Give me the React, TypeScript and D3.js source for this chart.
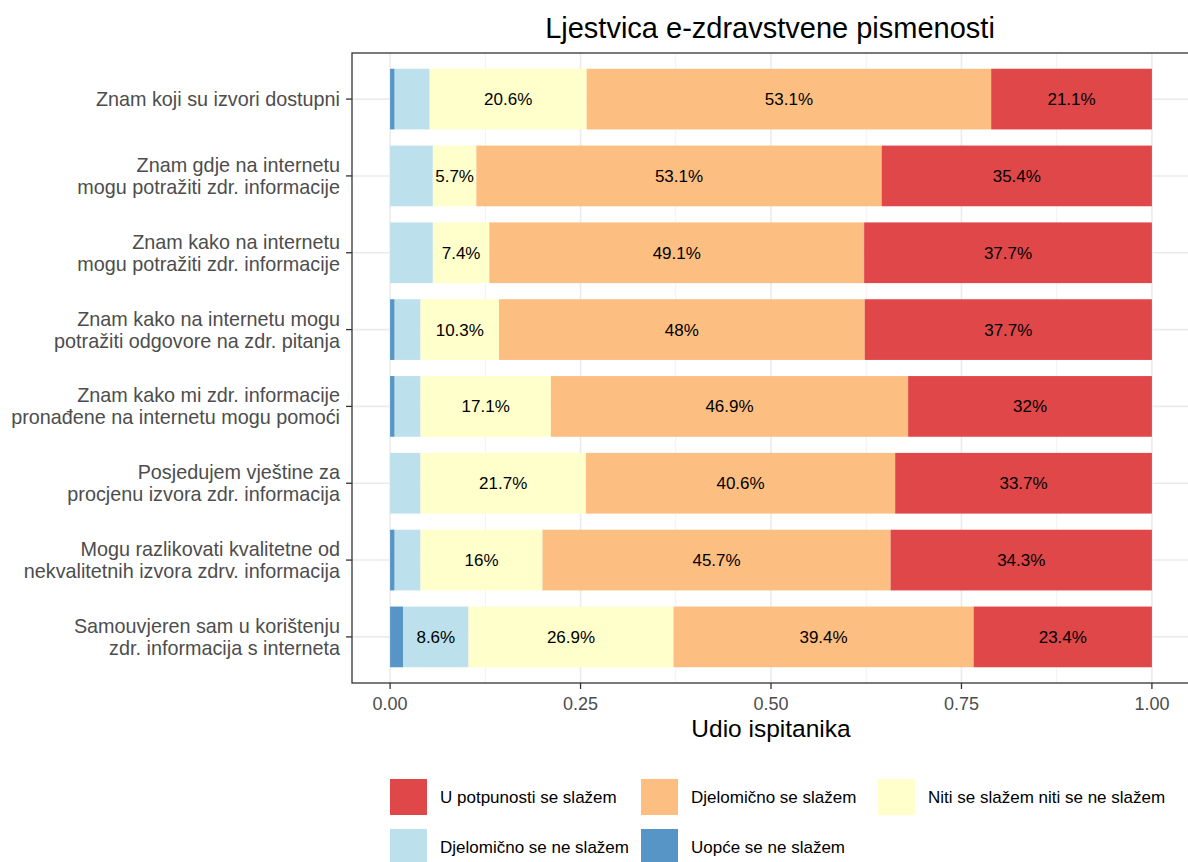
import React from "react";
import * as d3 from "d3";

const categories = [
  ["Znam koji su izvori dostupni"],
  ["Znam gdje na internetu", "mogu potražiti zdr. informacije"],
  ["Znam kako na internetu", "mogu potražiti zdr. informacije"],
  ["Znam kako na internetu mogu", "potražiti odgovore na zdr. pitanja"],
  ["Znam kako mi zdr. informacije", "pronađene na internetu mogu pomoći"],
  ["Posjedujem vještine za ", "procjenu izvora zdr. informacija"],
  ["Mogu razlikovati kvalitetne od", "nekvalitetnih izvora zdrv. informacija"],
  ["Samouvjeren sam u korištenju", "zdr. informacija s interneta"],
];

// stack order from left: Uopće, Djelomično ne, Niti, Djelomično se, U potpunosti
const uopceNe = [0.6, 0, 0, 0.6, 0.6, 0, 0.6, 1.7];
const djelomicnoNe = [4.6, 5.6, 5.6, 3.4, 3.4, 4.0, 3.4, 8.6];
const niti = [20.6, 5.7, 7.4, 10.3, 17.1, 21.7, 16, 26.9];
const djelomicnoSe = [53.1, 53.1, 49.1, 48, 46.9, 40.6, 45.7, 39.4];
const potpuno = [21.1, 35.4, 37.7, 37.7, 32, 33.7, 34.3, 23.4];

const seriesNames = [
  "Uopće se ne slažem",
  "Djelomično se ne slažem",
  "Niti se slažem niti se ne slažem",
  "Djelomično se slažem",
  "U potpunosti se slažem",
];
const seriesValues = [uopceNe, djelomicnoNe, niti, djelomicnoSe, potpuno];
const seriesColors = ["#5695C5", "#BCE1ED", "#FFFFCC", "#FDBE81", "#DF4749"];
const xTicks = [0, 0.25, 0.5, 0.75, 1];
const xTickLabels = ["0.00", "0.25", "0.50", "0.75", "1.00"];

export default function App() {
  const W = 1188, H = 862;
  const panelL = 352, panelR = 1190, panelT = 53, panelB = 683;
  const x = d3.scaleLinear().domain([-0.05, 1.05]).range([panelL, panelR]);
  const n = categories.length;
  const y = d3.scaleLinear().domain([-0.6, n - 1 + 0.6]).range([panelT, panelB]);
  const barH = (y(1) - y(0)) * 0.79;
  const font = "'Liberation Sans', Arial, sans-serif";

  // position "fill": normalise each row to its total
  const rows = categories.map((c, i) => {
    const total = d3.sum(seriesValues, (vals) => vals[i]);
    let cum = 0;
    return seriesValues.map((vals, s) => {
      const v = vals[i] / total;
      const seg = { s, x0: cum, x1: cum + v, v: vals[i] };
      cum += v;
      return seg;
    });
  });

  const minor = [0.125, 0.375, 0.625, 0.875];

  const legendItems = [
    { s: 4, kx: 390, ky: 779 },
    { s: 3, kx: 641, ky: 779 },
    { s: 2, kx: 878, ky: 779 },
    { s: 1, kx: 390, ky: 829 },
    { s: 0, kx: 641, ky: 829 },
  ];

  return (
    <svg width={W} height={H} style={{ position: "absolute", left: 0, top: 0, background: "#fff" }} fontFamily={font}>
      <rect x={0} y={0} width={W} height={H} fill="#fff" />
      <text x={770} y={38} textAnchor="middle" fontSize={29} fill="#000">Ljestvica e-zdravstvene pismenosti</text>
      {minor.map((m) => (
        <line key={"mi" + m} x1={x(m)} x2={x(m)} y1={panelT} y2={panelB} stroke="#f2f2f2" strokeWidth={1} />
      ))}
      {xTicks.map((t) => (
        <line key={"ma" + t} x1={x(t)} x2={x(t)} y1={panelT} y2={panelB} stroke="#ebebeb" strokeWidth={1.6} />
      ))}
      {categories.map((c, i) => (
        <line key={"h" + i} x1={panelL} x2={panelR} y1={y(i)} y2={y(i)} stroke="#ebebeb" strokeWidth={1.6} />
      ))}
      {rows.map((segs, i) => (
        <g key={"r" + i}>
          {segs.map((sg) =>
            sg.v > 0 ? (
              <rect key={sg.s} x={x(sg.x0)} y={y(i) - barH / 2} width={x(sg.x1) - x(sg.x0)} height={barH} fill={seriesColors[sg.s]} />
            ) : null
          )}
          {segs.map((sg) =>
            sg.v >= 5.65 ? (
              <text key={"t" + sg.s} x={(x(sg.x0) + x(sg.x1)) / 2} y={y(i) + 6} textAnchor="middle" fontSize={17} fill="#000">
                {sg.v + "%"}
              </text>
            ) : null
          )}
        </g>
      ))}
      <rect x={panelL} y={panelT} width={panelR - panelL} height={panelB - panelT} fill="none" stroke="#333" strokeWidth={1.3} />
      {categories.map((c, i) => (
        <g key={"yl" + i}>
          <line x1={panelL - 6} x2={panelL} y1={y(i)} y2={y(i)} stroke="#333" strokeWidth={1.3} />
          {c.map((line, k) => (
            <text key={k} x={340} y={y(i) + 7 + (k - (c.length - 1) / 2) * 22} textAnchor="end" fontSize={19.8} fill="#4d4d4d">
              {line}
            </text>
          ))}
        </g>
      ))}
      {xTicks.map((t, k) => (
        <g key={"xt" + t}>
          <line x1={x(t)} x2={x(t)} y1={panelB} y2={panelB + 6} stroke="#333" strokeWidth={1.3} />
          <text x={x(t)} y={panelB + 27} textAnchor="middle" fontSize={18} fill="#4d4d4d">{xTickLabels[k]}</text>
        </g>
      ))}
      <text x={771} y={737} textAnchor="middle" fontSize={24.5} fill="#000">Udio ispitanika</text>
      {legendItems.map((it) => (
        <g key={"lg" + it.s}>
          <rect x={it.kx} y={it.ky} width={37} height={36} fill={seriesColors[it.s]} />
          <text x={it.kx + 50} y={it.ky + 24} fontSize={17} fill="#000">{seriesNames[it.s]}</text>
        </g>
      ))}
    </svg>
  );
}
